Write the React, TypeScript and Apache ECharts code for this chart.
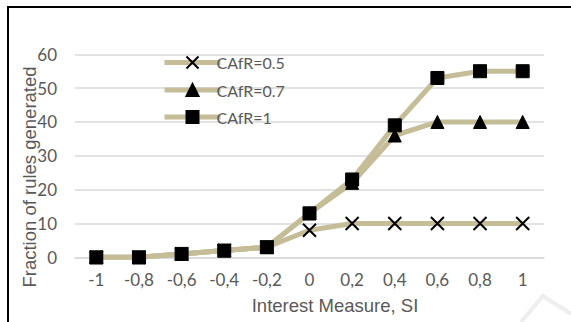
import React, { useEffect, useRef } from "react";
import * as echarts from "echarts";

const categories = ["-1", "-0,8", "-0,6", "-0,4", "-0,2", "0", "0,2", "0,4", "0,6", "0,8", "1"];
const seriesNames = ["CAfR=0.5", "CAfR=0.7", "CAfR=1"];
const cafr05 = [0, 0, 1, 2, 3, 8, 10, 10, 10, 10, 10];
const cafr07 = [0, 0, 1, 2, 3, 13, 22, 36, 40, 40, 40];
const cafr1 = [0, 0, 1, 2, 3, 13, 23, 39, 53, 55, 55];
const xTitle = "Interest Measure, SI";
const yTitle = "Fraction of rules generated";

const LINE = "#C4BD97";
const TXT = "#595959";
const TICK_FONT = "Lato, 'Open Sans', sans-serif";
const TITLE_FONT = "'Liberation Sans', Arial, sans-serif";

const crossPath = "path://M0,0L10,10M10,0L0,10";

export default function App() {
  const ref = useRef<HTMLDivElement>(null);
  useEffect(() => {
    if (!ref.current) return;
    const chart = echarts.init(ref.current, undefined, { renderer: "svg" });
    const mk = (name: string, data: number[], symbol: string, size: number, extra: any = {}) => ({
      name,
      type: "line",
      data,
      symbol,
      symbolSize: size,
      showAllSymbol: true,
      lineStyle: { color: LINE, width: 5 },
      itemStyle: { color: "#000", borderColor: "#000", borderWidth: 1, ...extra },
      emphasis: { disabled: true },
    });
    chart.setOption({
      animation: false,
      backgroundColor: "#fff",
      grid: { left: 75, right: 27, top: 54.3, bottom: 64.7 },
      legend: {
        orient: "vertical",
        left: 157,
        top: 49,
        itemWidth: 56,
        itemHeight: 15,
        itemGap: 11,
        lineStyle: { width: 5, color: LINE },
        textStyle: { color: TXT, fontFamily: TICK_FONT, fontSize: 16, lineHeight: 16, padding: [0, 0, 0, -9] },
        data: seriesNames,
      },
      xAxis: {
        type: "category",
        data: categories,
        boundaryGap: true,
        axisLine: { show: true, lineStyle: { color: "#d9d9d9", width: 1.5 } },
        axisTick: { show: false },
        axisLabel: { color: TXT, fontFamily: TICK_FONT, fontSize: 17, margin: 14, lineHeight: 17 },
      },
      yAxis: {
        type: "value",
        min: 0,
        max: 60,
        interval: 10,
        axisLine: { show: false },
        axisTick: { show: false },
        axisLabel: { color: TXT, fontFamily: TICK_FONT, fontSize: 17, margin: 18 },
        splitLine: { lineStyle: { color: "#d9d9d9", width: 1.5 } },
      },
      series: [
        mk(seriesNames[0], cafr05, crossPath, 13, { color: "none", borderWidth: 2 }),
        mk(seriesNames[1], cafr07, "triangle", 13),
        mk(seriesNames[2], cafr1, "rect", 13),
      ],
      graphic: [
        {
          type: "text",
          x: 29,
          y: 177,
          rotation: Math.PI / 2,
          style: {
            text: yTitle,
            fill: TXT,
            font: `18.5px ${TITLE_FONT}`,
            textAlign: "center",
            textVerticalAlign: "middle",
          },
        },
        {
          type: "text",
          x: 335,
          y: 305,
          style: {
            text: xTitle,
            fill: TXT,
            font: `18.5px ${TITLE_FONT}`,
            textAlign: "center",
            textVerticalAlign: "middle",
          },
        },
        {
          type: "polyline",
          shape: { points: [[8, 322], [8, 7], [571, 7]] },
          style: { stroke: "#000", lineWidth: 2, fill: "none" },
        },
        {
          type: "polyline",
          shape: { points: [[521, 322], [543, 296], [571, 314]] },
          style: { stroke: "#eeeeee", lineWidth: 4, fill: "none" },
          z: -1,
        },
      ],
    });
    return () => chart.dispose();
  }, []);
  return (
    <div
      ref={ref}
      style={{ position: "absolute", left: 0, top: 0, width: 571, height: 322, background: "#fff" }}
    />
  );
}
